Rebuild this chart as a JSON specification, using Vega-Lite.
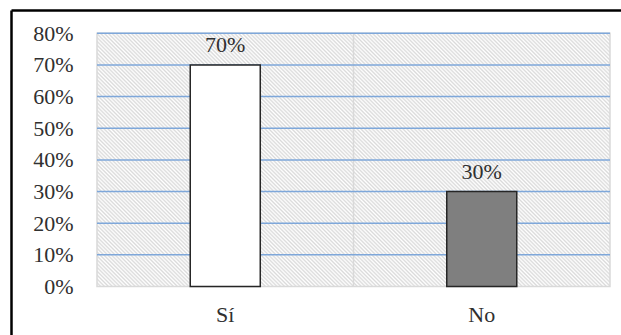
{
  "$schema": "https://vega.github.io/schema/vega-lite/v6.json",
  "width": 610,
  "height": 325,
  "autosize": {"type": "none"},
  "padding": {"left": 11, "top": 10, "right": 0, "bottom": 0},
  "background": "#ffffff",
  "config": {
    "view": {"stroke": null},
    "font": "Liberation Serif",
    "axis": {"labelFont": "Liberation Serif", "labelFontSize": 22, "labelColor": "#303030"}
  },
  "layer": [
    {
      "layer": [
        {
          "data": {"values": [{"zona": "fondo"}]},
          "mark": {
            "type": "rect",
            "stroke": "#d9d9d9",
            "strokeWidth": 1.5,
            "fill": {
              "gradient": "linear",
              "x1": 0, "y1": 1, "x2": 1.201, "y2": 0.4072,
              "stops": [
{"offset":0,"color":"#dadada"},{"offset":0.0025,"color":"#fff"},{"offset":0.005,"color":"#dadada"},{"offset":0.0075,"color":"#fff"},
{"offset":0.01,"color":"#dadada"},{"offset":0.0125,"color":"#fff"},{"offset":0.015,"color":"#dadada"},{"offset":0.0175,"color":"#fff"},
{"offset":0.02,"color":"#dadada"},{"offset":0.0225,"color":"#fff"},{"offset":0.025,"color":"#dadada"},{"offset":0.0275,"color":"#fff"},
{"offset":0.03,"color":"#dadada"},{"offset":0.0325,"color":"#fff"},{"offset":0.035,"color":"#dadada"},{"offset":0.0375,"color":"#fff"},
{"offset":0.04,"color":"#dadada"},{"offset":0.0425,"color":"#fff"},{"offset":0.045,"color":"#dadada"},{"offset":0.0475,"color":"#fff"},
{"offset":0.05,"color":"#dadada"},{"offset":0.0525,"color":"#fff"},{"offset":0.055,"color":"#dadada"},{"offset":0.0575,"color":"#fff"},
{"offset":0.06,"color":"#dadada"},{"offset":0.0625,"color":"#fff"},{"offset":0.065,"color":"#dadada"},{"offset":0.0675,"color":"#fff"},
{"offset":0.07,"color":"#dadada"},{"offset":0.0725,"color":"#fff"},{"offset":0.075,"color":"#dadada"},{"offset":0.0775,"color":"#fff"},
{"offset":0.08,"color":"#dadada"},{"offset":0.0825,"color":"#fff"},{"offset":0.085,"color":"#dadada"},{"offset":0.0875,"color":"#fff"},
{"offset":0.09,"color":"#dadada"},{"offset":0.0925,"color":"#fff"},{"offset":0.095,"color":"#dadada"},{"offset":0.0975,"color":"#fff"},
{"offset":0.1,"color":"#dadada"},{"offset":0.1025,"color":"#fff"},{"offset":0.105,"color":"#dadada"},{"offset":0.1075,"color":"#fff"},
{"offset":0.11,"color":"#dadada"},{"offset":0.1125,"color":"#fff"},{"offset":0.115,"color":"#dadada"},{"offset":0.1175,"color":"#fff"},
{"offset":0.12,"color":"#dadada"},{"offset":0.1225,"color":"#fff"},{"offset":0.125,"color":"#dadada"},{"offset":0.1275,"color":"#fff"},
{"offset":0.13,"color":"#dadada"},{"offset":0.1325,"color":"#fff"},{"offset":0.135,"color":"#dadada"},{"offset":0.1375,"color":"#fff"},
{"offset":0.14,"color":"#dadada"},{"offset":0.1425,"color":"#fff"},{"offset":0.145,"color":"#dadada"},{"offset":0.1475,"color":"#fff"},
{"offset":0.15,"color":"#dadada"},{"offset":0.1525,"color":"#fff"},{"offset":0.155,"color":"#dadada"},{"offset":0.1575,"color":"#fff"},
{"offset":0.16,"color":"#dadada"},{"offset":0.1625,"color":"#fff"},{"offset":0.165,"color":"#dadada"},{"offset":0.1675,"color":"#fff"},
{"offset":0.17,"color":"#dadada"},{"offset":0.1725,"color":"#fff"},{"offset":0.175,"color":"#dadada"},{"offset":0.1775,"color":"#fff"},
{"offset":0.18,"color":"#dadada"},{"offset":0.1825,"color":"#fff"},{"offset":0.185,"color":"#dadada"},{"offset":0.1875,"color":"#fff"},
{"offset":0.19,"color":"#dadada"},{"offset":0.1925,"color":"#fff"},{"offset":0.195,"color":"#dadada"},{"offset":0.1975,"color":"#fff"},
{"offset":0.2,"color":"#dadada"},{"offset":0.2025,"color":"#fff"},{"offset":0.205,"color":"#dadada"},{"offset":0.2075,"color":"#fff"},
{"offset":0.21,"color":"#dadada"},{"offset":0.2125,"color":"#fff"},{"offset":0.215,"color":"#dadada"},{"offset":0.2175,"color":"#fff"},
{"offset":0.22,"color":"#dadada"},{"offset":0.2225,"color":"#fff"},{"offset":0.225,"color":"#dadada"},{"offset":0.2275,"color":"#fff"},
{"offset":0.23,"color":"#dadada"},{"offset":0.2325,"color":"#fff"},{"offset":0.235,"color":"#dadada"},{"offset":0.2375,"color":"#fff"},
{"offset":0.24,"color":"#dadada"},{"offset":0.2425,"color":"#fff"},{"offset":0.245,"color":"#dadada"},{"offset":0.2475,"color":"#fff"},
{"offset":0.25,"color":"#dadada"},{"offset":0.2525,"color":"#fff"},{"offset":0.255,"color":"#dadada"},{"offset":0.2575,"color":"#fff"},
{"offset":0.26,"color":"#dadada"},{"offset":0.2625,"color":"#fff"},{"offset":0.265,"color":"#dadada"},{"offset":0.2675,"color":"#fff"},
{"offset":0.27,"color":"#dadada"},{"offset":0.2725,"color":"#fff"},{"offset":0.275,"color":"#dadada"},{"offset":0.2775,"color":"#fff"},
{"offset":0.28,"color":"#dadada"},{"offset":0.2825,"color":"#fff"},{"offset":0.285,"color":"#dadada"},{"offset":0.2875,"color":"#fff"},
{"offset":0.29,"color":"#dadada"},{"offset":0.2925,"color":"#fff"},{"offset":0.295,"color":"#dadada"},{"offset":0.2975,"color":"#fff"},
{"offset":0.3,"color":"#dadada"},{"offset":0.3025,"color":"#fff"},{"offset":0.305,"color":"#dadada"},{"offset":0.3075,"color":"#fff"},
{"offset":0.31,"color":"#dadada"},{"offset":0.3125,"color":"#fff"},{"offset":0.315,"color":"#dadada"},{"offset":0.3175,"color":"#fff"},
{"offset":0.32,"color":"#dadada"},{"offset":0.3225,"color":"#fff"},{"offset":0.325,"color":"#dadada"},{"offset":0.3275,"color":"#fff"},
{"offset":0.33,"color":"#dadada"},{"offset":0.3325,"color":"#fff"},{"offset":0.335,"color":"#dadada"},{"offset":0.3375,"color":"#fff"},
{"offset":0.34,"color":"#dadada"},{"offset":0.3425,"color":"#fff"},{"offset":0.345,"color":"#dadada"},{"offset":0.3475,"color":"#fff"},
{"offset":0.35,"color":"#dadada"},{"offset":0.3525,"color":"#fff"},{"offset":0.355,"color":"#dadada"},{"offset":0.3575,"color":"#fff"},
{"offset":0.36,"color":"#dadada"},{"offset":0.3625,"color":"#fff"},{"offset":0.365,"color":"#dadada"},{"offset":0.3675,"color":"#fff"},
{"offset":0.37,"color":"#dadada"},{"offset":0.3725,"color":"#fff"},{"offset":0.375,"color":"#dadada"},{"offset":0.3775,"color":"#fff"},
{"offset":0.38,"color":"#dadada"},{"offset":0.3825,"color":"#fff"},{"offset":0.385,"color":"#dadada"},{"offset":0.3875,"color":"#fff"},
{"offset":0.39,"color":"#dadada"},{"offset":0.3925,"color":"#fff"},{"offset":0.395,"color":"#dadada"},{"offset":0.3975,"color":"#fff"},
{"offset":0.4,"color":"#dadada"},{"offset":0.4025,"color":"#fff"},{"offset":0.405,"color":"#dadada"},{"offset":0.4075,"color":"#fff"},
{"offset":0.41,"color":"#dadada"},{"offset":0.4125,"color":"#fff"},{"offset":0.415,"color":"#dadada"},{"offset":0.4175,"color":"#fff"},
{"offset":0.42,"color":"#dadada"},{"offset":0.4225,"color":"#fff"},{"offset":0.425,"color":"#dadada"},{"offset":0.4275,"color":"#fff"},
{"offset":0.43,"color":"#dadada"},{"offset":0.4325,"color":"#fff"},{"offset":0.435,"color":"#dadada"},{"offset":0.4375,"color":"#fff"},
{"offset":0.44,"color":"#dadada"},{"offset":0.4425,"color":"#fff"},{"offset":0.445,"color":"#dadada"},{"offset":0.4475,"color":"#fff"},
{"offset":0.45,"color":"#dadada"},{"offset":0.4525,"color":"#fff"},{"offset":0.455,"color":"#dadada"},{"offset":0.4575,"color":"#fff"},
{"offset":0.46,"color":"#dadada"},{"offset":0.4625,"color":"#fff"},{"offset":0.465,"color":"#dadada"},{"offset":0.4675,"color":"#fff"},
{"offset":0.47,"color":"#dadada"},{"offset":0.4725,"color":"#fff"},{"offset":0.475,"color":"#dadada"},{"offset":0.4775,"color":"#fff"},
{"offset":0.48,"color":"#dadada"},{"offset":0.4825,"color":"#fff"},{"offset":0.485,"color":"#dadada"},{"offset":0.4875,"color":"#fff"},
{"offset":0.49,"color":"#dadada"},{"offset":0.4925,"color":"#fff"},{"offset":0.495,"color":"#dadada"},{"offset":0.4975,"color":"#fff"},
{"offset":0.5,"color":"#dadada"},{"offset":0.5025,"color":"#fff"},{"offset":0.505,"color":"#dadada"},{"offset":0.5075,"color":"#fff"},
{"offset":0.51,"color":"#dadada"},{"offset":0.5125,"color":"#fff"},{"offset":0.515,"color":"#dadada"},{"offset":0.5175,"color":"#fff"},
{"offset":0.52,"color":"#dadada"},{"offset":0.5225,"color":"#fff"},{"offset":0.525,"color":"#dadada"},{"offset":0.5275,"color":"#fff"},
{"offset":0.53,"color":"#dadada"},{"offset":0.5325,"color":"#fff"},{"offset":0.535,"color":"#dadada"},{"offset":0.5375,"color":"#fff"},
{"offset":0.54,"color":"#dadada"},{"offset":0.5425,"color":"#fff"},{"offset":0.545,"color":"#dadada"},{"offset":0.5475,"color":"#fff"},
{"offset":0.55,"color":"#dadada"},{"offset":0.5525,"color":"#fff"},{"offset":0.555,"color":"#dadada"},{"offset":0.5575,"color":"#fff"},
{"offset":0.56,"color":"#dadada"},{"offset":0.5625,"color":"#fff"},{"offset":0.565,"color":"#dadada"},{"offset":0.5675,"color":"#fff"},
{"offset":0.57,"color":"#dadada"},{"offset":0.5725,"color":"#fff"},{"offset":0.575,"color":"#dadada"},{"offset":0.5775,"color":"#fff"},
{"offset":0.58,"color":"#dadada"},{"offset":0.5825,"color":"#fff"},{"offset":0.585,"color":"#dadada"},{"offset":0.5875,"color":"#fff"},
{"offset":0.59,"color":"#dadada"},{"offset":0.5925,"color":"#fff"},{"offset":0.595,"color":"#dadada"},{"offset":0.5975,"color":"#fff"},
{"offset":0.6,"color":"#dadada"},{"offset":0.6025,"color":"#fff"},{"offset":0.605,"color":"#dadada"},{"offset":0.6075,"color":"#fff"},
{"offset":0.61,"color":"#dadada"},{"offset":0.6125,"color":"#fff"},{"offset":0.615,"color":"#dadada"},{"offset":0.6175,"color":"#fff"},
{"offset":0.62,"color":"#dadada"},{"offset":0.6225,"color":"#fff"},{"offset":0.625,"color":"#dadada"},{"offset":0.6275,"color":"#fff"},
{"offset":0.63,"color":"#dadada"},{"offset":0.6325,"color":"#fff"},{"offset":0.635,"color":"#dadada"},{"offset":0.6375,"color":"#fff"},
{"offset":0.64,"color":"#dadada"},{"offset":0.6425,"color":"#fff"},{"offset":0.645,"color":"#dadada"},{"offset":0.6475,"color":"#fff"},
{"offset":0.65,"color":"#dadada"},{"offset":0.6525,"color":"#fff"},{"offset":0.655,"color":"#dadada"},{"offset":0.6575,"color":"#fff"},
{"offset":0.66,"color":"#dadada"},{"offset":0.6625,"color":"#fff"},{"offset":0.665,"color":"#dadada"},{"offset":0.6675,"color":"#fff"},
{"offset":0.67,"color":"#dadada"},{"offset":0.6725,"color":"#fff"},{"offset":0.675,"color":"#dadada"},{"offset":0.6775,"color":"#fff"},
{"offset":0.68,"color":"#dadada"},{"offset":0.6825,"color":"#fff"},{"offset":0.685,"color":"#dadada"},{"offset":0.6875,"color":"#fff"},
{"offset":0.69,"color":"#dadada"},{"offset":0.6925,"color":"#fff"},{"offset":0.695,"color":"#dadada"},{"offset":0.6975,"color":"#fff"},
{"offset":0.7,"color":"#dadada"},{"offset":0.7025,"color":"#fff"},{"offset":0.705,"color":"#dadada"},{"offset":0.7075,"color":"#fff"},
{"offset":0.71,"color":"#dadada"},{"offset":0.7125,"color":"#fff"},{"offset":0.715,"color":"#dadada"},{"offset":0.7175,"color":"#fff"},
{"offset":0.72,"color":"#dadada"},{"offset":0.7225,"color":"#fff"},{"offset":0.725,"color":"#dadada"},{"offset":0.7275,"color":"#fff"},
{"offset":0.73,"color":"#dadada"},{"offset":0.7325,"color":"#fff"},{"offset":0.735,"color":"#dadada"},{"offset":0.7375,"color":"#fff"},
{"offset":0.74,"color":"#dadada"},{"offset":0.7425,"color":"#fff"},{"offset":0.745,"color":"#dadada"},{"offset":0.7475,"color":"#fff"},
{"offset":0.75,"color":"#dadada"},{"offset":0.7525,"color":"#fff"},{"offset":0.755,"color":"#dadada"},{"offset":0.7575,"color":"#fff"},
{"offset":0.76,"color":"#dadada"},{"offset":0.7625,"color":"#fff"},{"offset":0.765,"color":"#dadada"},{"offset":0.7675,"color":"#fff"},
{"offset":0.77,"color":"#dadada"},{"offset":0.7725,"color":"#fff"},{"offset":0.775,"color":"#dadada"},{"offset":0.7775,"color":"#fff"},
{"offset":0.78,"color":"#dadada"},{"offset":0.7825,"color":"#fff"},{"offset":0.785,"color":"#dadada"},{"offset":0.7875,"color":"#fff"},
{"offset":0.79,"color":"#dadada"},{"offset":0.7925,"color":"#fff"},{"offset":0.795,"color":"#dadada"},{"offset":0.7975,"color":"#fff"},
{"offset":0.8,"color":"#dadada"},{"offset":0.8025,"color":"#fff"},{"offset":0.805,"color":"#dadada"},{"offset":0.8075,"color":"#fff"},
{"offset":0.81,"color":"#dadada"},{"offset":0.8125,"color":"#fff"},{"offset":0.815,"color":"#dadada"},{"offset":0.8175,"color":"#fff"},
{"offset":0.82,"color":"#dadada"},{"offset":0.8225,"color":"#fff"},{"offset":0.825,"color":"#dadada"},{"offset":0.8275,"color":"#fff"},
{"offset":0.83,"color":"#dadada"},{"offset":0.8325,"color":"#fff"},{"offset":0.835,"color":"#dadada"},{"offset":0.8375,"color":"#fff"},
{"offset":0.84,"color":"#dadada"},{"offset":0.8425,"color":"#fff"},{"offset":0.845,"color":"#dadada"},{"offset":0.8475,"color":"#fff"},
{"offset":0.85,"color":"#dadada"},{"offset":0.8525,"color":"#fff"},{"offset":0.855,"color":"#dadada"},{"offset":0.8575,"color":"#fff"},
{"offset":0.86,"color":"#dadada"},{"offset":0.8625,"color":"#fff"},{"offset":0.865,"color":"#dadada"},{"offset":0.8675,"color":"#fff"},
{"offset":0.87,"color":"#dadada"},{"offset":0.8725,"color":"#fff"},{"offset":0.875,"color":"#dadada"},{"offset":0.8775,"color":"#fff"},
{"offset":0.88,"color":"#dadada"},{"offset":0.8825,"color":"#fff"},{"offset":0.885,"color":"#dadada"},{"offset":0.8875,"color":"#fff"},
{"offset":0.89,"color":"#dadada"},{"offset":0.8925,"color":"#fff"},{"offset":0.895,"color":"#dadada"},{"offset":0.8975,"color":"#fff"},
{"offset":0.9,"color":"#dadada"},{"offset":0.9025,"color":"#fff"},{"offset":0.905,"color":"#dadada"},{"offset":0.9075,"color":"#fff"},
{"offset":0.91,"color":"#dadada"},{"offset":0.9125,"color":"#fff"},{"offset":0.915,"color":"#dadada"},{"offset":0.9175,"color":"#fff"},
{"offset":0.92,"color":"#dadada"},{"offset":0.9225,"color":"#fff"},{"offset":0.925,"color":"#dadada"},{"offset":0.9275,"color":"#fff"},
{"offset":0.93,"color":"#dadada"},{"offset":0.9325,"color":"#fff"},{"offset":0.935,"color":"#dadada"},{"offset":0.9375,"color":"#fff"},
{"offset":0.94,"color":"#dadada"},{"offset":0.9425,"color":"#fff"},{"offset":0.945,"color":"#dadada"},{"offset":0.9475,"color":"#fff"},
{"offset":0.95,"color":"#dadada"},{"offset":0.9525,"color":"#fff"},{"offset":0.955,"color":"#dadada"},{"offset":0.9575,"color":"#fff"},
{"offset":0.96,"color":"#dadada"},{"offset":0.9625,"color":"#fff"},{"offset":0.965,"color":"#dadada"},{"offset":0.9675,"color":"#fff"},
{"offset":0.97,"color":"#dadada"},{"offset":0.9725,"color":"#fff"},{"offset":0.975,"color":"#dadada"},{"offset":0.9775,"color":"#fff"},
{"offset":0.98,"color":"#dadada"},{"offset":0.9825,"color":"#fff"},{"offset":0.985,"color":"#dadada"},{"offset":0.9875,"color":"#fff"},
{"offset":0.99,"color":"#dadada"},{"offset":0.9925,"color":"#fff"},{"offset":0.995,"color":"#dadada"},{"offset":0.9975,"color":"#fff"},
{"offset":1,"color":"#dadada"}
              ]
            }
          },
          "encoding": {
            "x": {
              "datum": 0,
              "type": "quantitative",
              "scale": {"domain": [-0.3353, 2.0429], "nice": false, "zero": false},
              "axis": {"orient": "top", "title": null, "labels": false, "ticks": false, "grid": false, "domain": true, "domainColor": "#000000", "domainWidth": 2.5}
            },
            "x2": {"datum": 2},
            "y": {
              "datum": 0,
              "type": "quantitative",
              "scale": {"domain": [-0.1532, 0.8736], "nice": false, "zero": false}
            },
            "y2": {"datum": 0.8}
          }
        },
        {
          "data": {"values": [{"divisor": 1}]},
          "mark": {"type": "rule", "color": "#d9d9d9", "strokeWidth": 1.5},
          "encoding": {
            "x": {"field": "divisor", "type": "quantitative"},
            "y": {"datum": 0, "type": "quantitative"},
            "y2": {"datum": 0.8}
          }
        },
        {
          "data": {"values": [{"nivel": 0.1}, {"nivel": 0.2}, {"nivel": 0.3}, {"nivel": 0.4}, {"nivel": 0.5}, {"nivel": 0.6}, {"nivel": 0.7}, {"nivel": 0.8}]},
          "mark": {"type": "rule", "color": "#7ea7da", "strokeWidth": 1.5},
          "encoding": {
            "x": {"datum": 0, "type": "quantitative"},
            "x2": {"datum": 2},
            "y": {"field": "nivel", "type": "quantitative"}
          }
        }
      ]
    },
    {
      "data": {"values": [{"respuesta": "Sí", "porcentaje": 0.7}, {"respuesta": "No", "porcentaje": 0.3}]},
      "encoding": {
        "x": {
          "field": "respuesta",
          "type": "nominal",
          "sort": null,
          "scale": {"domain": ["Sí", "No"], "paddingInner": 0, "paddingOuter": 0.1891, "align": 0.8866, "round": false},
          "axis": {"orient": "bottom", "title": null, "offset": -48.5, "domain": false, "ticks": false, "tickSize": 0, "grid": false, "labelAngle": 0, "labelPadding": 35, "labelBaseline": "alphabetic"}
        },
        "y": {
          "field": "porcentaje",
          "type": "quantitative",
          "axis": {
            "orient": "left",
            "title": null,
            "values": [0, 0.1, 0.2, 0.3, 0.4, 0.5, 0.6, 0.7, 0.8],
            "format": ".0%",
            "domain": true,
            "domainColor": "#000000",
            "domainWidth": 2.5,
            "ticks": false,
            "tickSize": 0,
            "grid": false,
            "labelPadding": -62,
            "labelAlign": "right",
            "labelBaseline": "middle",
            "labelOverlap": false,
            "labelFlush": false
          }
        }
      },
      "layer": [
        {
          "mark": {"type": "bar", "width": {"band": 0.273}, "stroke": "#262626", "strokeWidth": 1.5},
          "encoding": {
            "y2": {"datum": 0},
            "fill": {"field": "respuesta", "type": "nominal", "scale": {"domain": ["Sí", "No"], "range": ["#ffffff", "#7f7f7f"]}, "legend": null}
          }
        },
        {
          "mark": {"type": "text", "baseline": "alphabetic", "dy": -13, "font": "Liberation Serif", "fontSize": 22, "color": "#303030"},
          "encoding": {
            "text": {"field": "porcentaje", "type": "quantitative", "format": ".0%"}
          }
        }
      ]
    }
  ],
  "resolve": {"scale": {"x": "independent"}, "axis": {"x": "independent"}}
}
